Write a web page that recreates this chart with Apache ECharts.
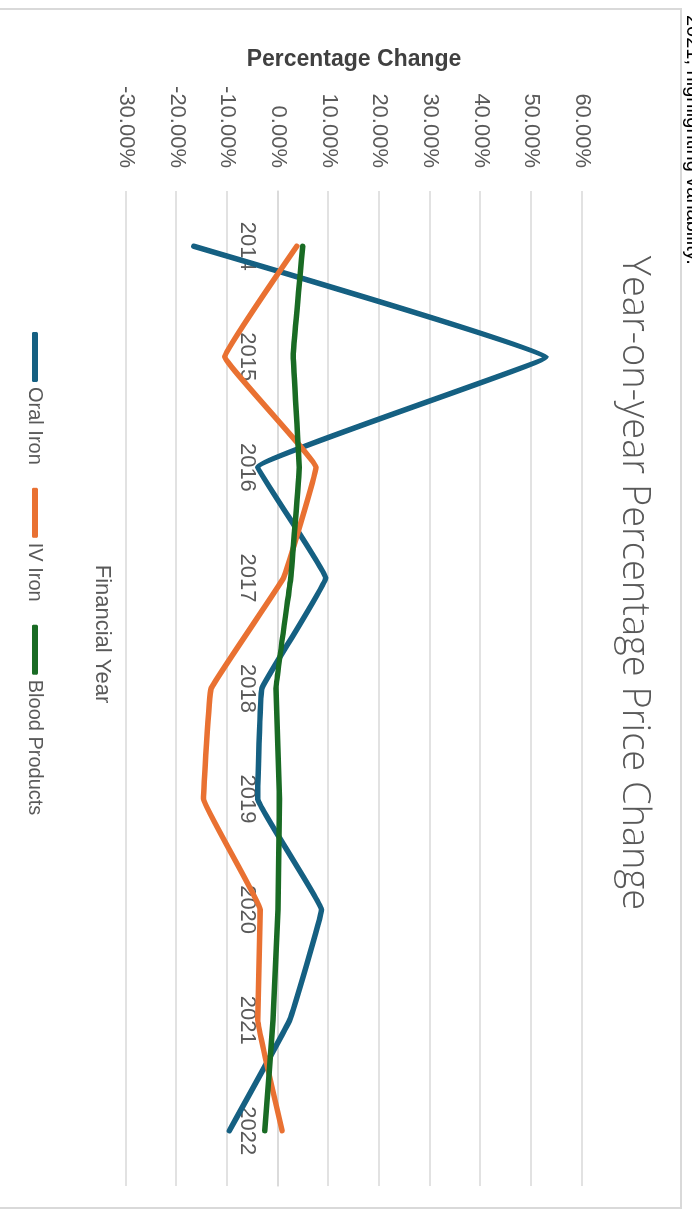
<!DOCTYPE html>
<html><head><meta charset="utf-8">
<script src="https://cdn.jsdelivr.net/npm/echarts@6/dist/echarts.min.js"></script>
<style>
html,body{margin:0;padding:0;background:#fff;overflow:hidden;width:692px;height:1212px;}
#chart{position:absolute;left:0;top:0;width:1212px;height:692px;transform-origin:0 0;transform:translate(692px,0) rotate(90deg);}
</style></head><body><div id="chart"></div>
<script>
const years = ['2014','2015','2016','2017','2018','2019','2020','2021','2022'];
const oralIron = [-16.6, 52.9, -4.0, 9.4, -3.2, -4.0, 8.6, 2.3, -9.6];
const ivIron = [3.7, -10.5, 7.5, 1.1, -13.2, -14.7, -3.5, -4.0, 0.8];
const bloodProducts = [4.9, 3.0, 4.2, 2.5, -0.4, 0.3, 0.0, -1.0, -2.6];
const seriesNames = ['Oral Iron', 'IV Iron', 'Blood Products'];
const seriesColors = ['#156082', '#E97132', '#196B24'];
const valueMin = -30, valueMax = 60, valueStep = 10;
const chartTitle = 'Year-on-year Percentage Price Change';
const valueAxisTitle = 'Percentage Change';
const categoryAxisTitle = 'Financial Year';
const pageText = '2021, highlighting variability.';

const gridTop = 110, gridHeight = 456;
// category labels sit at the value-0 crossing
const zeroOffset = -gridHeight * (0 - valueMin) / (valueMax - valueMin);

const chart = echarts.init(document.getElementById('chart'), null, {renderer: 'canvas', width: 1212, height: 692});
const gray = '#595959';
const mk = (name, data, color) => ({
  name, type: 'line', data, symbol: 'none', showSymbol: false, smooth: 0.06,
  color, lineStyle: {color, width: 5.5, cap: 'round', join: 'round'}
});
chart.setOption({
  animation: false,
  backgroundColor: '#ffffff',
  grid: {left: 191, top: gridTop, width: 995, height: gridHeight, outerBoundsMode: 'none', containLabel: false},
  graphic: [
    {type: 'rect', shape: {x: 9, y: 11, width: 1199, height: 720}, style: {fill: 'none', stroke: '#d9d9d9', lineWidth: 2}, silent: true},
    {type: 'text', x: 15, y: 9, style: {text: pageText, font: '20px "Liberation Sans", Arial, sans-serif', fill: '#000', verticalAlign: 'bottom', align: 'left'}},
    {type: 'text', x: 583, y: 58, style: {text: chartTitle, font: '300 38px "Open Sans", sans-serif', fill: gray, align: 'center', verticalAlign: 'middle'}},
    {type: 'text', x: 634, y: 590, style: {text: categoryAxisTitle, font: '22px "Liberation Sans", Arial, sans-serif', fill: gray, align: 'center', verticalAlign: 'middle'}}
  ],
  legend: {
    data: seriesNames, left: 332, top: 647, orient: 'horizontal', padding: 0,
    icon: 'roundRect', itemWidth: 50, itemHeight: 6, itemGap: 23,
    textStyle: {fontSize: 20, color: gray, fontFamily: '"Liberation Sans", Arial, sans-serif'}
  },
  xAxis: {
    type: 'category', data: years, boundaryGap: true, position: 'bottom', offset: zeroOffset,
    axisLine: {show: true, onZero: false, lineStyle: {color: '#d9d9d9', width: 1.5}},
    axisTick: {show: false},
    axisLabel: {interval: 0, margin: 20, fontSize: 22, color: gray, fontFamily: '"Liberation Sans", Arial, sans-serif'},
    splitLine: {show: false}
  },
  yAxis: {
    type: 'value', min: valueMin, max: valueMax, interval: valueStep,
    name: valueAxisTitle, nameLocation: 'middle', nameGap: 120,
    nameTextStyle: {fontSize: 23, fontWeight: 'bold', color: '#404040', fontFamily: '"Liberation Sans", Arial, sans-serif'},
    axisLine: {show: false}, axisTick: {show: false},
    axisLabel: {margin: 23, fontSize: 22, color: gray, fontFamily: '"Liberation Sans", Arial, sans-serif', formatter: v => v.toFixed(2) + '%'},
    splitLine: {show: true, lineStyle: {color: '#d9d9d9', width: 1.5}}
  },
  series: [
    mk(seriesNames[0], oralIron, seriesColors[0]),
    mk(seriesNames[1], ivIron, seriesColors[1]),
    mk(seriesNames[2], bloodProducts, seriesColors[2])
  ]
});
</script></body></html>
